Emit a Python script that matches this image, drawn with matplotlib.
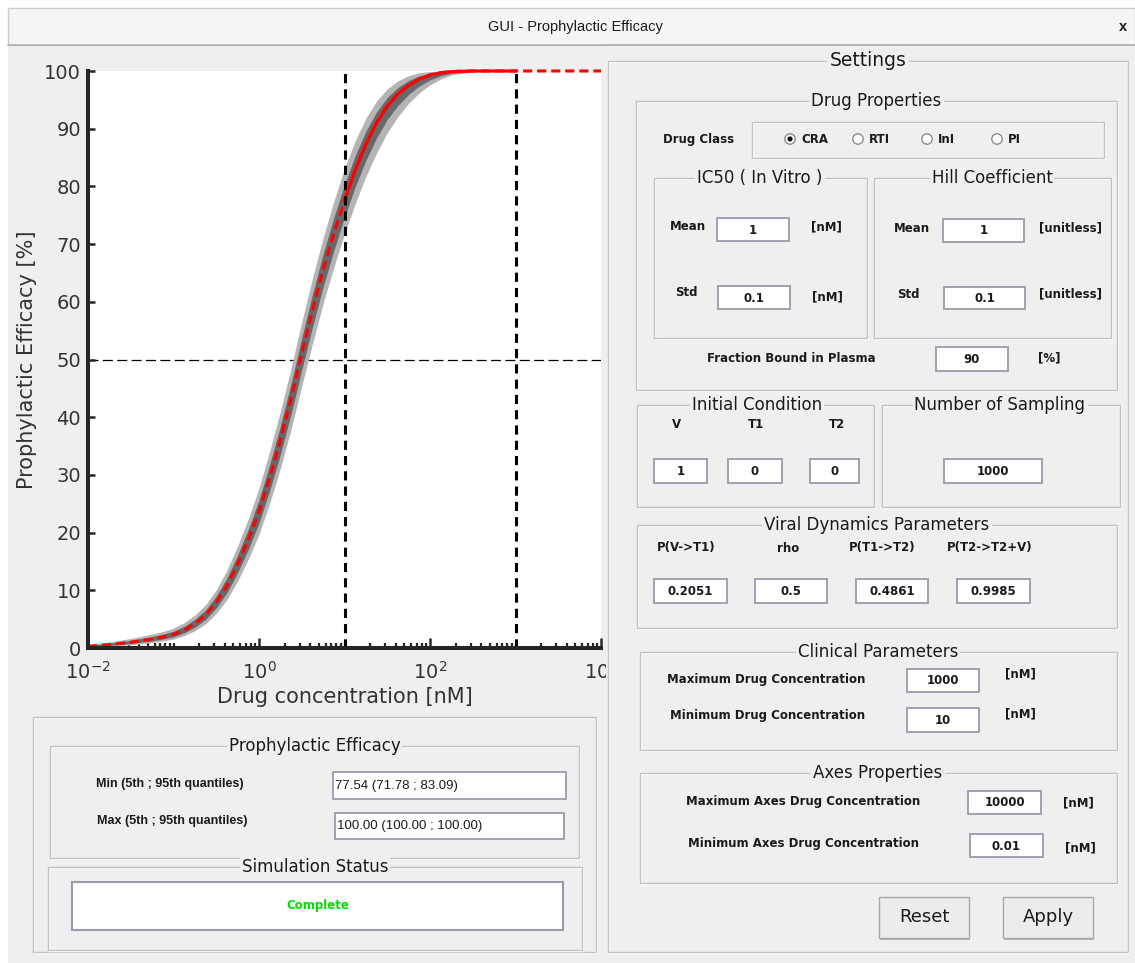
import numpy as np
import matplotlib
matplotlib.use('Agg')
import matplotlib.pyplot as plt
from matplotlib.patches import Rectangle, Circle

# efficacy curve (log10 of concentration in nM)
log_conc = [-2.0, -1.75, -1.5, -1.25, -1.125, -1.0, -0.875, -0.75, -0.625, -0.5,
            -0.375, -0.25, -0.125, 0.0, 0.125, 0.25, 0.375, 0.5, 0.625, 0.75,
            0.875, 1.0, 1.125, 1.25, 1.375, 1.5, 1.625, 1.75, 1.875, 2.0,
            2.125, 2.25, 2.5, 3.0, 3.5, 4.0]
eff_mean = [0.3, 0.6, 1.0, 1.55, 1.9, 2.35, 3.1, 4.2, 5.7, 7.9,
            10.8, 14.5, 18.8, 23.6, 29.5, 36.0, 43.2, 51.0, 58.5, 65.5,
            71.8, 77.54, 82.8, 87.3, 91.0, 93.9, 96.0, 97.5, 98.6, 99.3,
            99.7, 99.9, 100, 100, 100, 100]
eff_q05 = [0.1, 0.3, 0.55, 0.95, 1.2, 1.55, 2.15, 3.0, 4.2, 6.0,
           8.4, 11.6, 15.4, 19.7, 25.1, 31.1, 37.9, 45.4, 52.7, 59.7,
           66.0, 71.78, 77.0, 81.7, 85.8, 89.3, 92.1, 94.4, 96.2, 97.6,
           98.6, 99.3, 99.85, 100, 100, 100]
eff_q95 = [0.6, 1.05, 1.65, 2.4, 2.85, 3.45, 4.4, 5.7, 7.5, 10.1,
           13.5, 17.7, 22.4, 27.7, 34.1, 41.0, 48.5, 56.5, 64.1, 71.1,
           77.4, 83.09, 87.9, 91.8, 94.8, 96.9, 98.3, 99.2, 99.7, 99.9,
           100, 100, 100, 100, 100, 100]
eff_q25 = [0.2, 0.45, 0.78, 1.25, 1.55, 1.95, 2.63, 3.6, 4.95, 6.95,
           9.6, 13.05, 17.1, 21.65, 27.3, 33.55, 40.55, 48.2, 55.6, 62.6,
           68.9, 74.65, 79.9, 84.5, 88.4, 91.6, 94.05, 95.95, 97.4, 98.45,
           99.15, 99.6, 99.92, 100, 100, 100]
eff_q75 = [0.45, 0.83, 1.33, 1.98, 2.38, 2.9, 3.75, 4.95, 6.6, 9.0,
           12.15, 16.1, 20.6, 25.65, 31.8, 38.5, 45.85, 53.75, 61.3, 68.3,
           74.6, 80.3, 85.35, 89.55, 92.9, 95.4, 97.15, 98.35, 99.15, 99.6,
           99.85, 99.95, 100, 100, 100, 100]

clin_min = 10
clin_max = 1000
axes_min = 0.01
axes_max = 10000

BG = '#efefef'
TXT = '#1a1a1a'

conc = 10 ** np.array(log_conc)
mean = np.array(eff_mean)
clin = (conc >= clin_min) & (conc <= clin_max)

fig = plt.figure(figsize=(11.35, 9.63), dpi=100, facecolor=BG)

# ---- main plot
ax = fig.add_axes([88/1135, 1-648/963, 513/1135, 577/963], zorder=1)
ax.set_facecolor('white')
ax.fill_between(conc, eff_q05, eff_q95, color='#b4b4b4', lw=0, zorder=2)
ax.fill_between(conc, eff_q25, eff_q75, color='#686868', lw=0, zorder=3)
ax.plot(conc, mean, color='red', lw=2.2, dashes=(3, 1.6), zorder=4, clip_on=False)
ax.plot(conc[clin], mean[clin], color='red', lw=2.2, zorder=5, clip_on=False)
for c in (clin_min, clin_max):
    ax.plot([c, c], [0, 100], color='black', lw=2.2, dashes=(3, 2), zorder=6, clip_on=False)
ax.axhline(50, color='black', lw=0.9, dashes=(8, 3.5), zorder=1)

ax.set_xscale('log')
ax.set_xlim(axes_min, axes_max)
ax.set_ylim(0, 100)
ax.set_xticks([1e-2, 1e0, 1e2, 1e4])
ax.set_xticklabels(['$10^{-2}$', '$10^{0}$', '$10^{2}$', '$10^{4}$'])
ax.xaxis.set_minor_locator(matplotlib.ticker.LogLocator(base=10, subs=np.arange(1, 10), numticks=20))
ax.xaxis.set_minor_formatter(matplotlib.ticker.NullFormatter())
ax.set_yticks(np.arange(0, 101, 10))
for s in ('top', 'right'):
    ax.spines[s].set_visible(False)
for s in ('left', 'bottom'):
    ax.spines[s].set_linewidth(2.9)
    ax.spines[s].set_color('#262626')
    ax.spines[s].set_zorder(7)
ax.tick_params(which='major', direction='in', length=5, width=1.8, colors='#262626',
               labelsize=14, labelcolor='#333333')
ax.tick_params(axis='x', which='major', length=7, pad=9)
ax.tick_params(axis='y', which='major', pad=5)
ax.tick_params(which='minor', direction='in', length=3.5, width=1.6, colors='#262626')
ax.set_xlabel('Drug concentration [nM]', fontsize=15, color='#333333')
ax.set_ylabel('Prophylactic Efficacy [%]', fontsize=15, color='#333333')
ax.xaxis.set_label_coords(0.5, -0.068)
ax.yaxis.set_label_coords(-0.10, 0.5)

# ---- GUI overlay in pixel coordinates
ov = fig.add_axes([0, 0, 1, 1], zorder=5)
ov.set_xlim(0, 1135)
ov.set_ylim(963, 0)
ov.axis('off')


def rect(x0, y0, x1, y1, **kw):
    ov.add_patch(Rectangle((x0, y0), x1 - x0, y1 - y0, **kw))


def group(x0, y0, x1, y1, title=None, size=12, tx=None):
    rect(x0 + 1, y0 + 1, x1 + 1, y1 + 1, fill=False, ec='white', lw=1)
    rect(x0, y0, x1, y1, fill=False, ec='#c2c2c2', lw=1)
    if title:
        ov.text(tx if tx else (x0 + x1) / 2, y0, title, ha='center', va='center',
                fontsize=size, color=TXT,
                bbox=dict(boxstyle='square,pad=0.12', fc=BG, ec='none'))


def field(x0, y0, x1, y1, txt, ha='center', bold=True, fs=8.5, family='DejaVu Sans'):
    rect(x0, y0, x1, y1, fc='white', ec='#9a9aad', lw=1.3)
    tx = (x0 + x1) / 2 if ha == 'center' else x0 + 2
    ov.text(tx, (y0 + y1) / 2 + 0.5, txt, ha=ha, va='center', fontsize=fs, color=TXT,
            fontweight='bold' if bold else 'normal', family=family)


def lab(x, y, txt, fs=8.5, bold=True, family='DejaVu Sans', **kw):
    ov.text(x, y, txt, ha='center', va='center', fontsize=fs, color=TXT,
            fontweight='bold' if bold else 'normal', family=family, **kw)


# window frame / title bar
rect(0, 0, 1135, 8, fc='white', ec='none')
rect(0, 0, 8, 963, fc='white', ec='none')
rect(8, 8, 1135, 45, fc='#f5f5f5', ec='#cccccc', lw=1)
ov.plot([8, 1135], [45, 45], color='#b0b0b0', lw=1.2)
lab(575, 27, 'GUI - Prophylactic Efficacy', fs=10.5, bold=False, family='Liberation Sans')
lab(1123, 27, 'x', fs=10.5, bold=True, family='Liberation Sans')

# right panel cover (hides the clipped tick label like the GUI does)
rect(606, 46, 1135, 963, fc=BG, ec='none')

# ---- left lower panel
group(33, 717, 596, 952)
group(50, 746, 579, 858, 'Prophylactic Efficacy', size=12)
lab(170, 784, 'Min (5th ; 95th quantiles)', fs=9, family='Liberation Sans')
lab(172, 821, 'Max (5th ; 95th quantiles)', fs=9, family='Liberation Sans')
field(333, 772, 566, 799, '77.54 (71.78 ; 83.09)', ha='left', bold=False, fs=9.5,
      family='Liberation Sans')
field(335, 813, 564, 839, '100.00 (100.00 ; 100.00)', ha='left', bold=False, fs=9.5,
      family='Liberation Sans')
group(48, 867, 582, 950, 'Simulation Status', size=12)
rect(72, 882, 563, 930, fc='white', ec='#9a9aad', lw=1.5)
ov.text(318, 906, 'Complete', ha='center', va='center', fontsize=8.5,
        fontweight='bold', color='#00e000')

# ---- settings panel
group(608, 61, 1128, 952, 'Settings', size=13.5)

group(636, 101, 1117, 390, 'Drug Properties', size=12)
lab(699, 139, 'Drug Class')
group(752, 122, 1104, 158)
radio_x = [790, 858, 927, 997]
radio_lab = ['CRA', 'RTI', 'InI', 'PI']
for rx, rl in zip(radio_x, radio_lab):
    ov.add_patch(Circle((rx, 139), 5.2, fc='white', ec='#8c8c8c', lw=1))
    ov.text(rx + 11, 139.5, rl, ha='left', va='center', fontsize=8.5,
            fontweight='bold', color=TXT)
ov.add_patch(Circle((radio_x[0], 139), 2.6, fc='#111111', ec='none'))

group(654, 178, 867, 338, 'IC50 ( In Vitro )', size=12, tx=760)
lab(688, 227, 'Mean')
field(717, 218, 789, 241, '1')
lab(826, 227, '[nM]', bold=True)
lab(686, 293, 'Std')
field(718, 286, 790, 309, '0.1')
lab(827, 297, '[nM]', bold=True)

group(874, 178, 1111, 338, 'Hill Coefficient', size=12, tx=992)
lab(912, 229, 'Mean')
field(943, 219, 1024, 242, '1')
lab(1070, 228, '[unitless]', bold=True)
lab(908, 294, 'Std')
field(944, 287, 1025, 309, '0.1')
lab(1070, 294, '[unitless]', bold=True)

lab(791, 358, 'Fraction Bound in Plasma')
field(936, 347, 1008, 371, '90')
lab(1049, 358, '[%]')

group(637, 405, 874, 507, 'Initial Condition', size=12, tx=757)
ic_lab = ['V', 'T1', 'T2']
ic_x = [(654, 707), (728, 782), (810, 859)]
ic_lab_x = [677, 756, 837]
ic_val = ['1', '0', '0']
for (a, b), lx, ll, v in zip(ic_x, ic_lab_x, ic_lab, ic_val):
    lab(lx, 425, ll)
    field(a, 459, b, 483, v)

group(882, 405, 1120, 507, 'Number of Sampling', size=12, tx=1000)
field(944, 459, 1042, 483, '1000')

group(637, 525, 1117, 628, 'Viral Dynamics Parameters', size=12, tx=877)
vd_lab = ['P(V->T1)', 'rho', 'P(T1->T2)', 'P(T2->T2+V)']
vd_lab_x = [686, 788, 882, 990]
vd_box = [(654, 727), (755, 827), (856, 928), (957, 1030)]
vd_val = ['0.2051', '0.5', '0.4861', '0.9985']
for lx, ll, (a, b), v in zip(vd_lab_x, vd_lab, vd_box, vd_val):
    lab(lx, 548, ll)
    field(a, 579, b, 603, v)

group(640, 652, 1117, 750, 'Clinical Parameters', size=12, tx=878)
lab(766, 679, 'Maximum Drug Concentration')
field(907, 669, 979, 692, '1000')
lab(1020, 674, '[nM]')
lab(768, 716, 'Minimum Drug Concentration')
field(907, 708, 979, 732, '10')
lab(1020, 714, '[nM]')

group(640, 773, 1117, 883, 'Axes Properties', size=12, tx=878)
lab(803, 802, 'Maximum Axes Drug Concentration')
field(968, 791, 1041, 814, '10000')
lab(1078, 803, '[nM]')
lab(803, 844, 'Minimum Axes Drug Concentration')
field(970, 834, 1043, 857, '0.01')
lab(1080, 848, '[nM]')

for (a, b), t in zip([(879, 969), (1003, 1093)], ['Reset', 'Apply']):
    rect(a + 1, 899, b + 1, 940, fc='#b8b8b8', ec='none')
    rect(a, 897, b, 938, fc='#ececec', ec='#a8a8a8', lw=1)
    lab((a + b) / 2, 917, t, fs=13, bold=False)

fig.savefig('out.png', dpi=100, facecolor=BG)
